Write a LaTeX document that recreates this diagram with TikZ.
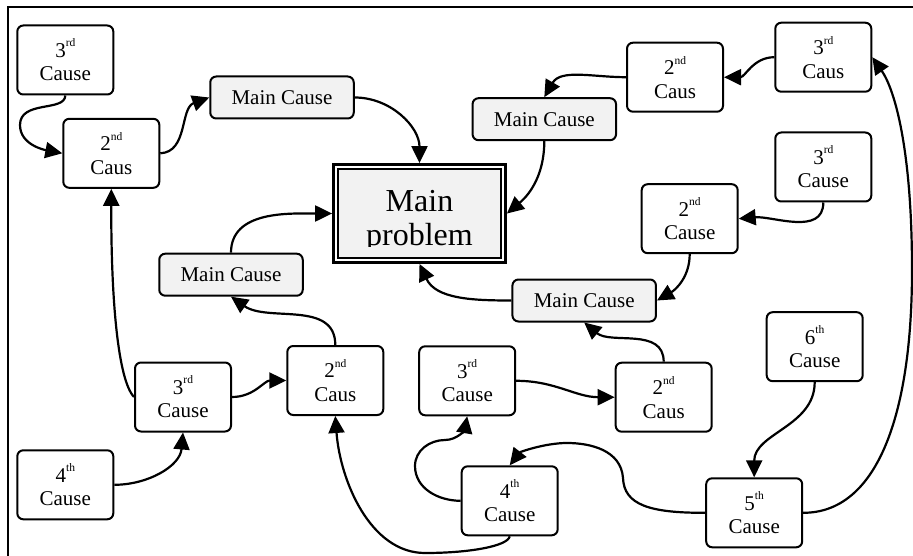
\documentclass[tikz,border=0pt]{standalone}
\usepackage{fontspec}
\setmainfont{Liberation Serif}
\usetikzlibrary{arrows.meta}
\newcommand\ordsup[1]{\raisebox{10.5pt}{\fontsize{11.5}{11.5}\selectfont #1}}
\definecolor{boxgray}{HTML}{F2F2F2}
\tikzset{
  causebox/.style={draw, line width=2pt, rounded corners=6pt, fill=white,
    minimum width=96pt, minimum height=69pt, inner sep=0pt, align=center,
    font=\fontsize{21}{23.5}\selectfont},
  mainbox/.style={draw, line width=2pt, rounded corners=6pt, fill=boxgray,
    minimum width=143.5pt, minimum height=42pt, inner sep=0pt,
    font=\fontsize{21}{23.5}\selectfont},
  link/.style={line width=2.2pt, -{Triangle[length=17pt,width=16pt]}}
}
\begin{document}
\begin{tikzpicture}[x=1pt,y=1pt]
\useasboundingbox (0,0) rectangle (913,-556);
% outer frame (left and top edges)
\draw[line width=1.6pt] (8,-560) -- (8,-7) -- (920,-7);

% central problem box with double border
\node[draw, line width=2.8pt, fill=white, minimum width=172pt, minimum height=98pt,
      inner sep=0pt] (mp) at (419.5,-213.5) {};
\draw[line width=2pt, fill=boxgray] ([shift={(5.5,-5.5)}]mp.north west)
  rectangle ([shift={(-5.5,5.5)}]mp.south east);
\begin{scope}
  \clip (333,-150) rectangle (506,-246.5);
  \node[align=center, font=\fontsize{32}{35}\selectfont, anchor=base, inner sep=0pt]
    at (419.5,-246) {Main\\problem};
\end{scope}

% main causes
\node[mainbox] (mcA) at (282,-97.5) {Main Cause};
\node[mainbox] (mcB) at (544.3,-119.2) {Main Cause};
\node[mainbox] (mcC) at (584.2,-300.5) {Main Cause};
\node[mainbox] (mcD) at (231,-274.7) {Main Cause};

% secondary and deeper causes
\node[causebox] (n3a) at (65.3,-60) {3\ordsup{rd}\\Cause};
\node[causebox] (n2a) at (111.3,-153.3) {2\ordsup{nd}\\Caus};
\node[causebox] (n2b) at (675,-77.2) {2\ordsup{nd}\\Caus};
\node[causebox] (n3b) at (823.3,-57.2) {3\ordsup{rd}\\Caus};
\node[causebox] (n3c) at (823.3,-167) {3\ordsup{rd}\\Cause};
\node[causebox] (n2c) at (689.7,-218.7) {2\ordsup{nd}\\Cause};
\node[causebox] (n3d) at (183,-397) {3\ordsup{rd}\\Cause};
\node[causebox] (n2d) at (335.3,-380.5) {2\ordsup{nd}\\Caus};
\node[causebox] (n3e) at (467.2,-380.8) {3\ordsup{rd}\\Cause};
\node[causebox] (n2e) at (663.7,-397.2) {2\ordsup{nd}\\Caus};
\node[causebox] (n6) at (814.7,-346.7) {6\ordsup{th}\\Cause};
\node[causebox] (n5) at (754.2,-512.8) {5\ordsup{th}\\Cause};
\node[causebox] (n4b) at (509.7,-500.8) {4\ordsup{th}\\Cause};
\node[causebox] (n4a) at (65.3,-484.8) {4\ordsup{th}\\Cause};

% connectors
\draw[link] (n3a.south) .. controls (65,-112) and (20,-100) .. (20,-125)
  .. controls (20,-145) and (45,-150) .. (n2a.west);
\draw[link] (n2a.east) .. controls (188,-152) and (180,-108) .. (mcA.west);
\draw[link] (mcA.east) to[out=0,in=90] (mp.north);
\draw[link] (mcB.south) to[out=-90,in=40] (mp.east);
\draw[link] (n2b.west) to[out=180,in=60] (mcB.north);
\draw[link] (n3b.west) to[out=180,in=0] (n2b.east);
\draw[link] (n5.east) .. controls (875,-513) and (912,-420) .. (912,-270)
  .. controls (912,-150) and (895,-90) .. (n3b.east);
\draw[link] (n3c.south) to[out=-90,in=5] (n2c.east);
\draw[link] (n2c.south) to[out=-90,in=30] (mcC.east);
\draw[link] (mcC.west) to[out=180,in=-65] (mp.south);
\draw[link] (mcD.north) to[out=90,in=180] (mp.west);
\draw[link] (n2d.north) to[out=90,in=-35] (mcD.south);
\draw[link] (n3d.west) .. controls (118,-380) and (111,-300) .. (n2a.south);
\draw[link] (n3d.east) to[out=0,in=180] (n2d.west);
\draw[link] (n4a.east) to[out=0,in=-95] (n3d.south);
\draw[link] (n4b.south) .. controls (508,-546) and (470,-553) .. (425,-553)
  .. controls (370,-553) and (340,-480) .. (n2d.south);
\draw[link] (n4b.west) to[out=180,in=-90] (415,-466)
  to[out=90,in=180] (445,-440) to[out=0,in=-100] (n3e.south);
\draw[link] (n3e.east) to[out=0,in=180] (n2e.west);
\draw[link] (n2e.north) to[out=90,in=-40] (mcC.south);
\draw[link] (n6.south) to[out=-90,in=90] (n5.north);
\draw[link] (n5.west) .. controls (650,-513) and (624,-505) .. (623,-478)
  .. controls (621,-450) and (590,-443) .. (567,-443)
  .. controls (545,-443) and (520,-452) .. (n4b.north);
\end{tikzpicture}
\end{document}
